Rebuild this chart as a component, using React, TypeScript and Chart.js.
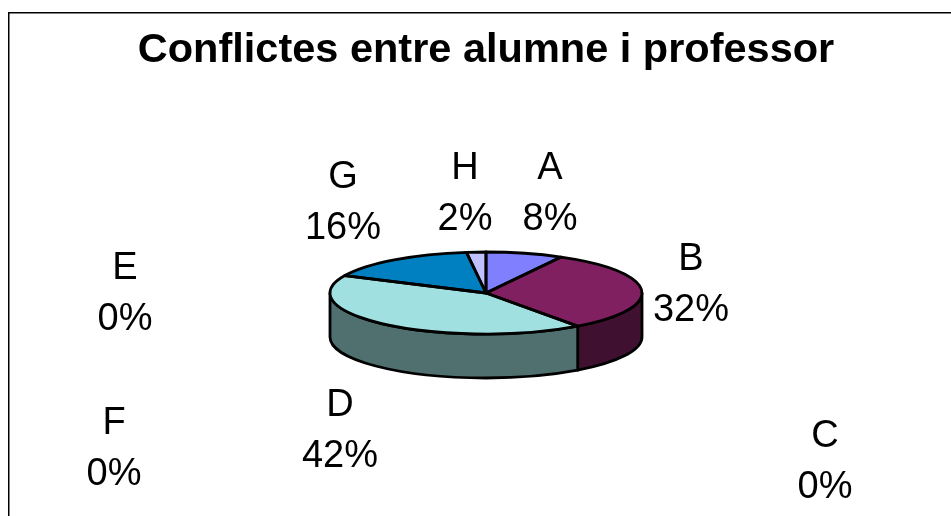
import React, { useEffect, useRef } from 'react';
import { Chart, registerables } from 'chart.js';

Chart.register(...registerables);

// ---- data ----
const categories = ['A', 'B', 'C', 'D', 'E', 'F', 'G', 'H'];
const values = [8, 32, 0, 42, 0, 0, 16, 2];
const sliceColors = ['#8080FF', '#802060', '#FFFFC0', '#A0E0E0', '#600080', '#FF8080', '#0080C0', '#C0C0FF'];
const titleText = 'Conflictes entre alumne i professor';

// ---- layout of the data labels (centre x, first line baseline) ----
const labelX = [550, 691, 825, 340, 125, 114, 343, 465];
const labelY = [179, 270, 447, 416, 279, 434, 188, 179];
const LABEL_GAP = 51;

const W = 951;
const H = 516;
const TILT = 41 / 156; // vertical squash of the pie's top face
const DEPTH = 44; // thickness of the 3D pie
const OUTLINE = 2.8;

function shade(hex: string, f = 0.5): string {
  const n = parseInt(hex.slice(1), 16);
  const r = Math.round(((n >> 16) & 255) * f);
  const g = Math.round(((n >> 8) & 255) * f);
  const b = Math.round((n & 255) * f);
  return `rgb(${r},${g},${b})`;
}

function arcProps(arc: any) {
  return arc.getProps(['x', 'y', 'startAngle', 'endAngle', 'outerRadius'], true);
}

const pie3d = {
  id: 'pie3d',
  beforeDraw(chart: any) {
    const ctx = chart.ctx;
    ctx.save();
    ctx.fillStyle = '#ffffff';
    ctx.fillRect(0, 0, W, H);
    ctx.strokeStyle = '#000000';
    ctx.lineWidth = 1.5;
    ctx.beginPath();
    ctx.moveTo(8.75, H + 4);
    ctx.lineTo(8.75, 12.75);
    ctx.lineTo(W + 4, 12.75);
    ctx.stroke();
    ctx.restore();
  },
  beforeDatasetsDraw(chart: any) {
    const ctx = chart.ctx;
    const arcs = chart.getDatasetMeta(0).data;
    ctx.save();
    ctx.lineWidth = OUTLINE;
    ctx.strokeStyle = '#000000';
    ctx.lineJoin = 'round';
    arcs.forEach((arc: any, i: number) => {
      const { x, y, startAngle, endAngle, outerRadius } = arcProps(arc);
      const a = Math.max(startAngle, 0);
      const b = Math.min(endAngle, Math.PI);
      if (b - a <= 1e-6) return;
      const ry = outerRadius * TILT;
      ctx.beginPath();
      ctx.ellipse(x, y, outerRadius, ry, 0, a, b);
      ctx.lineTo(x + outerRadius * Math.cos(b), y + ry * Math.sin(b) + DEPTH);
      ctx.ellipse(x, y + DEPTH, outerRadius, ry, 0, b, a, true);
      ctx.closePath();
      ctx.fillStyle = shade(sliceColors[i]);
      ctx.fill();
      ctx.stroke();
    });
    ctx.restore();
    const { x, y } = arcProps(arcs[0]);
    ctx.save();
    ctx.translate(x, y);
    ctx.scale(1, TILT);
    ctx.translate(-x, -y);
  },
  afterDatasetsDraw(chart: any) {
    const ctx = chart.ctx;
    ctx.restore();
    const arcs = chart.getDatasetMeta(0).data;
    ctx.save();
    ctx.lineWidth = OUTLINE;
    ctx.strokeStyle = '#000000';
    ctx.lineJoin = 'round';
    arcs.forEach((arc: any) => {
      const { x, y, startAngle, endAngle, outerRadius } = arcProps(arc);
      if (endAngle - startAngle <= 1e-6) return;
      const ry = outerRadius * TILT;
      ctx.beginPath();
      ctx.moveTo(x, y);
      ctx.lineTo(x + outerRadius * Math.cos(startAngle), y + ry * Math.sin(startAngle));
      ctx.ellipse(x, y, outerRadius, ry, 0, startAngle, endAngle);
      ctx.closePath();
      ctx.stroke();
    });
    ctx.restore();
  },
  afterDraw(chart: any) {
    const ctx = chart.ctx;
    const total = values.reduce((s, v) => s + v, 0);
    ctx.save();
    ctx.fillStyle = '#000000';
    ctx.font = '38px "Liberation Sans", Arial, sans-serif';
    ctx.textAlign = 'center';
    ctx.textBaseline = 'alphabetic';
    categories.forEach((c, i) => {
      ctx.fillText(c, labelX[i], labelY[i]);
      ctx.fillText(`${Math.round((values[i] / total) * 100)}%`, labelX[i], labelY[i] + LABEL_GAP);
    });
    ctx.restore();
  },
};

export default function App() {
  const ref = useRef<HTMLCanvasElement | null>(null);
  useEffect(() => {
    if (!ref.current) return;
    const chart = new Chart(ref.current, {
      type: 'pie',
      data: {
        labels: categories,
        datasets: [
          {
            data: values,
            backgroundColor: sliceColors,
            borderWidth: 0,
          },
        ],
      },
      options: {
        animation: false,
        responsive: false,
        events: [],
        layout: { padding: { left: 21, right: 0, top: 0, bottom: 67 } },
        plugins: {
          legend: { display: false },
          tooltip: { enabled: false },
          title: {
            display: true,
            text: titleText,
            color: '#000000',
            font: { family: '"Liberation Sans", Arial, sans-serif', size: 41.5, weight: 'bold', lineHeight: 1.2 },
            padding: { top: 25.6, bottom: 61.6 },
          },
        },
      },
      plugins: [pie3d],
    });
    return () => chart.destroy();
  }, []);
  return (
    <div style={{ position: 'absolute', left: 0, top: 0, width: W, height: H }}>
      <canvas ref={ref} width={W} height={H} style={{ display: 'block', width: W, height: H }} />
    </div>
  );
}
